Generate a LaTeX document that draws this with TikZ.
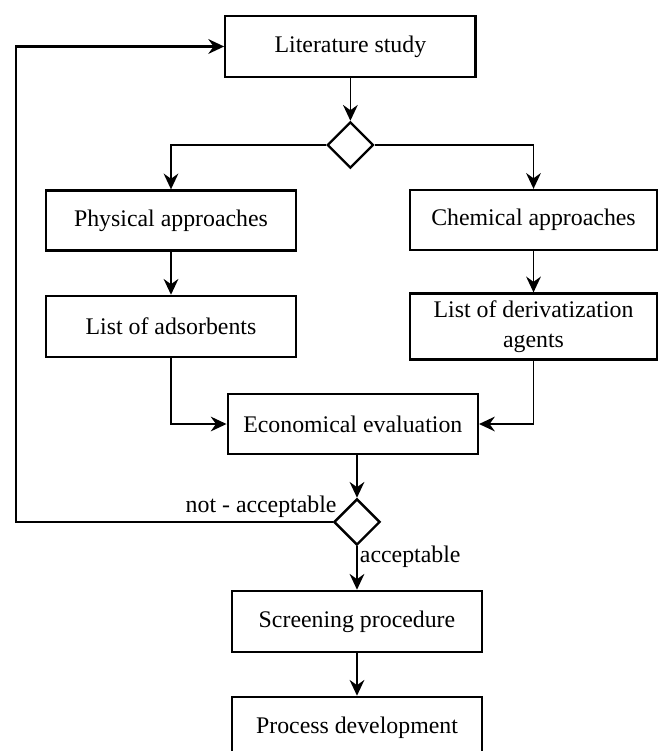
\documentclass[tikz,border=0pt]{standalone}
\usepackage{fontspec}
\setmainfont{Liberation Serif}
\usepackage{tikz}
\usetikzlibrary{shapes.geometric, arrows.meta, positioning}

\begin{document}
\begin{tikzpicture}[
        box/.style={rectangle, draw, line width=1.1pt, minimum height=1.0cm, minimum width=4.17cm, align=center, font=\fontsize{11.3}{14.2}\selectfont},
        decision/.style={diamond, draw, line width=1.1pt, minimum width=0.77cm, minimum height=0.77cm, inner sep=0pt},
        arrow/.style={-{Stealth[length=7.5pt, width=7pt, inset=2.5pt]}, line width=0.8pt},
        lbl/.style={font=\fontsize{11.3}{14.2}\selectfont, inner sep=1pt}
    ]
        \useasboundingbox (0,0) rectangle (10.967,-12.517);
        \node[box, minimum height=1.02cm] (lit) at (5.84,-0.775) {Literature study};
        \node[decision] (d1) at (5.84,-2.417) {};
        \node[box] (phys) at (2.85,-3.675) {Physical approaches};
        \node[box, minimum width=4.12cm] (chem) at (8.892,-3.667) {Chemical approaches};
        \node[box, minimum height=1.02cm] (ads) at (2.85,-5.442) {List of adsorbents};
        \node[box, minimum height=1.02cm, minimum width=4.12cm] (deriv) at (8.892,-5.442) {List of derivatization\\agents};
        \node[box] (econ) at (5.88,-7.067) {Economical evaluation};
        \node[decision] (d2) at (5.95,-8.7) {};
        \node[box, minimum height=1.02cm] (screen) at (5.95,-10.358) {Screening procedure};
        \node[box, minimum height=1.02cm] (proc) at (5.95,-12.125) {Process development};
        \coordinate (loop) at (0.267,-0.775);
        \draw[arrow] (lit) -- (d1);
        \draw[arrow] (d1) -| (phys);
        \draw[arrow] (d1) -| (chem);
        \draw[arrow] (phys) -- (ads);
        \draw[arrow] (chem) -- (deriv);
        \draw[arrow] (ads) |- (econ);
        \draw[arrow] (deriv) |- (econ);
        \draw[arrow] (econ.south -| d2) -- (d2);
        \draw[arrow, line width=1.1pt] (d2.west) -| (loop) -- (lit.west);
        \draw[arrow] (d2) -- node[lbl, pos=0.25, right] (acc) {acceptable} (screen);
        \draw[arrow] (screen) -- (proc);
        \node[lbl, anchor=south east] (notacc) at ([xshift=3pt, yshift=1pt]d2.west) {not - acceptable};
    \end{tikzpicture}
\end{document}
